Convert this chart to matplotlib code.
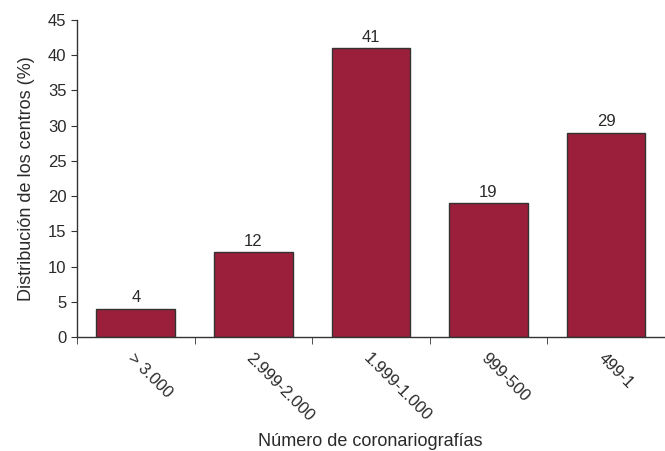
import matplotlib
matplotlib.use("Agg")
import matplotlib.pyplot as plt
import numpy as np

categories = ["> 3.000", "2.999-2.000", "1.999-1.000", "999-500", "499-1"]
values = [4, 12, 41, 19, 29]

plt.rcParams['font.family'] = ['Liberation Sans', 'DejaVu Sans']

bar_color = "#9b1f3a"
text_color = "#2a2a2a"

fig = plt.figure(figsize=(6.65, 4.51), dpi=100)
ax = fig.add_axes([0.1158, 0.2528, 0.884, 0.703])

x = np.arange(len(categories))
ax.bar(x, values, width=0.67, color=bar_color, edgecolor="#333333", linewidth=1.0, zorder=2)

for xi, v in zip(x, values):
    ax.text(xi, v + 0.5, str(v), ha="center", va="bottom", fontsize=12, color=text_color)

ax.set_xlim(-0.5, len(categories) - 0.5)
ax.set_ylim(0, 45)
ax.set_yticks(range(0, 46, 5))

# category labels at centers, tick marks at the boundaries
ax.set_xticks(x)
ax.set_xticklabels(categories, rotation=-45, ha="left", va="top", rotation_mode="anchor")
ax.set_xticks(np.arange(-0.5, len(categories), 1.0), minor=True)
ax.tick_params(axis="x", which="major", length=0, pad=10, labelsize=12, labelcolor=text_color)
ax.tick_params(axis="x", which="minor", length=5, direction="out", color="#333333")
ax.tick_params(axis="y", length=4, direction="out", labelsize=12, labelcolor=text_color, color="#333333")

for s in ["top", "right"]:
    ax.spines[s].set_visible(False)
for s in ["left", "bottom"]:
    ax.spines[s].set_color("#333333")
    ax.spines[s].set_linewidth(1.0)

ax.set_ylabel("Distribución de los centros (%)", fontsize=13, color=text_color, labelpad=9)
fig.text(0.557, 0.003, "Número de coronariografías", ha="center", va="bottom", fontsize=13, color=text_color)

fig.savefig("out.png", dpi=100)
